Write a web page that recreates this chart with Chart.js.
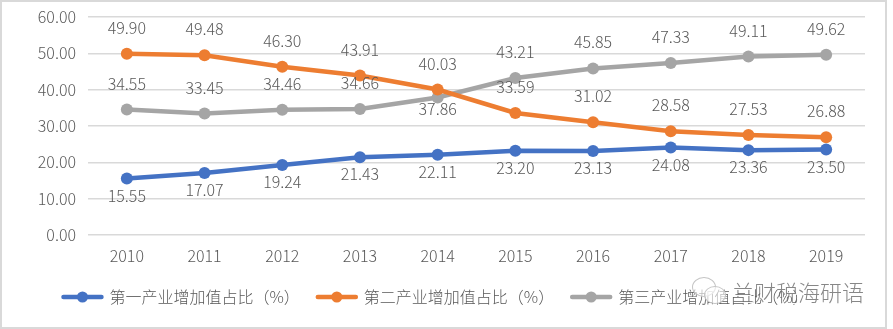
<!DOCTYPE html>
<html>
<head>
<meta charset="utf-8">
<script src="https://cdn.jsdelivr.net/npm/chart.js@4.4.1/dist/chart.umd.min.js"></script>
<style>
    html, body { margin: 0; padding: 0; background: #fff; }
    #wrap { position: relative; width: 893px; height: 329px; }
    #frame {
        position: absolute; left: 0; top: 0; width: 887px; height: 329px;
        box-sizing: border-box; border: 2px solid #d9d9d9; pointer-events: none;
    }
    #mark {
        position: absolute; left: 690px; top: 275px; height: 32px;
        display: flex; align-items: center; pointer-events: none;
        font-family: "Noto Sans CJK SC", sans-serif; font-size: 22px; font-weight: 300;
        color: rgba(105, 105, 105, 0.8); text-shadow: 1px 1px 0 rgba(255,255,255,0.9);
    }
    .bubble { position: absolute; border: 1.5px solid #c4c4c4; border-radius: 50%; background: rgba(255,255,255,0.6); }
</style>
</head>
<body>
<div id="wrap">
    <canvas id="shareChart" width="893" height="329"></canvas>
    <div id="mark">
        <div style="position:relative;width:42px;height:30px;">
            <div class="bubble" style="left:2px;top:1px;width:22px;height:18px;"></div>
            <div class="bubble" style="left:14px;top:10px;width:20px;height:16px;"></div>
        </div>
        <span>兰财税海研语</span>
    </div>
    <div id="frame"></div>
</div>
<script>
// 年份与三次产业增加值占比（%）
const years = ['2010', '2011', '2012', '2013', '2014', '2015', '2016', '2017', '2018', '2019'];
const primaryShare = [15.55, 17.07, 19.24, 21.43, 22.11, 23.20, 23.13, 24.08, 23.36, 23.50];
const secondaryShare = [49.90, 49.48, 46.30, 43.91, 40.03, 33.59, 31.02, 28.58, 27.53, 26.88];
const tertiaryShare = [34.55, 33.45, 34.46, 34.66, 37.86, 43.21, 45.85, 47.33, 49.11, 49.62];
const yTicks = [0, 10, 20, 30, 40, 50, 60];

const FONT = '"Noto Sans CJK SC", sans-serif';
const TEXT = '#595959';

function lineSet(label, data, color, labelOffset) {
    return {
        label: label,
        data: data,
        borderColor: color,
        backgroundColor: color,
        borderWidth: 4.5,
        pointRadius: 6,
        pointHoverRadius: 6,
        pointBorderWidth: 0,
        tension: 0,
        labelOffset: labelOffset
    };
}

// 数据标签：按偏移量画在点的上方或下方
const valueLabels = {
    id: 'valueLabels',
    afterDatasetsDraw(chart) {
        const ctx = chart.ctx;
        ctx.save();
        ctx.font = '300 16px ' + FONT;
        ctx.fillStyle = TEXT;
        ctx.textAlign = 'center';
        ctx.textBaseline = 'middle';
        chart.data.datasets.forEach((ds, i) => {
            const meta = chart.getDatasetMeta(i);
            meta.data.forEach((pt, j) => {
                ctx.fillText(ds.data[j].toFixed(2), pt.x, pt.y + ds.labelOffset(j));
            });
        });
        ctx.restore();
    }
};

// 底部图例：线段 + 圆点 + 文字
const bottomLegend = {
    id: 'bottomLegend',
    afterDraw(chart) {
        const ctx = chart.ctx;
        ctx.save();
        ctx.font = '300 16px ' + FONT;
        ctx.textBaseline = 'middle';
        const y = 297;
        const lineW = 42, gapText = 6, gapItem = 16;
        const items = chart.data.datasets.map(ds => ({ ds, w: ctx.measureText(ds.label).width }));
        const total = items.reduce((s, it) => s + lineW + gapText + it.w, 0) + gapItem * (items.length - 1);
        let x = 435 - total / 2;
        items.forEach(it => {
            ctx.strokeStyle = it.ds.borderColor;
            ctx.lineWidth = 4.5;
            ctx.lineCap = 'round';
            ctx.beginPath();
            ctx.moveTo(x + 2, y);
            ctx.lineTo(x + lineW - 2, y);
            ctx.stroke();
            ctx.fillStyle = it.ds.borderColor;
            ctx.beginPath();
            ctx.arc(x + lineW / 2, y, 5.5, 0, Math.PI * 2);
            ctx.fill();
            ctx.fillStyle = TEXT;
            ctx.fillText(it.ds.label, x + lineW + gapText, y);
            x += lineW + gapText + it.w + gapItem;
        });
        ctx.restore();
    }
};

new Chart(document.getElementById('shareChart'), {
    type: 'line',
    data: {
        labels: years,
        datasets: [
            lineSet('第一产业增加值占比（%）', primaryShare, '#4472C4', () => 17),
            lineSet('第二产业增加值占比（%）', secondaryShare, '#ED7D31', () => -26),
            lineSet('第三产业增加值占比（%）', tertiaryShare, '#A5A5A5', j => (j === 4 ? 11 : -26))
        ]
    },
    options: {
        responsive: false,
        animation: false,
        devicePixelRatio: 1,
        layout: { padding: { left: 0, right: 28, top: 17, bottom: 54 } },
        plugins: {
            legend: { display: false },
            tooltip: { enabled: false }
        },
        scales: {
            x: {
                offset: true,
                grid: { display: false, drawTicks: false },
                border: { display: false },
                ticks: { color: TEXT, font: { family: FONT, size: 16, weight: 300 }, padding: 11, maxRotation: 0 },
                afterFit(scale) { scale.height = 40; scale.paddingLeft = 0; scale.paddingRight = 0; }
            },
            y: {
                min: 0,
                max: 60,
                afterBuildTicks(scale) { scale.ticks = yTicks.map(v => ({ value: v })); },
                grid: { color: '#d9d9d9', lineWidth: 1.5, drawTicks: false },
                border: { display: false },
                ticks: {
                    color: TEXT,
                    font: { family: FONT, size: 16, weight: 300 },
                    padding: 12,
                    callback: v => v.toFixed(2)
                },
                afterFit(scale) { scale.width = 88; scale.paddingTop = 0; scale.paddingBottom = 0; }
            }
        }
    },
    plugins: [valueLabels, bottomLegend]
});
</script>
</body>
</html>
